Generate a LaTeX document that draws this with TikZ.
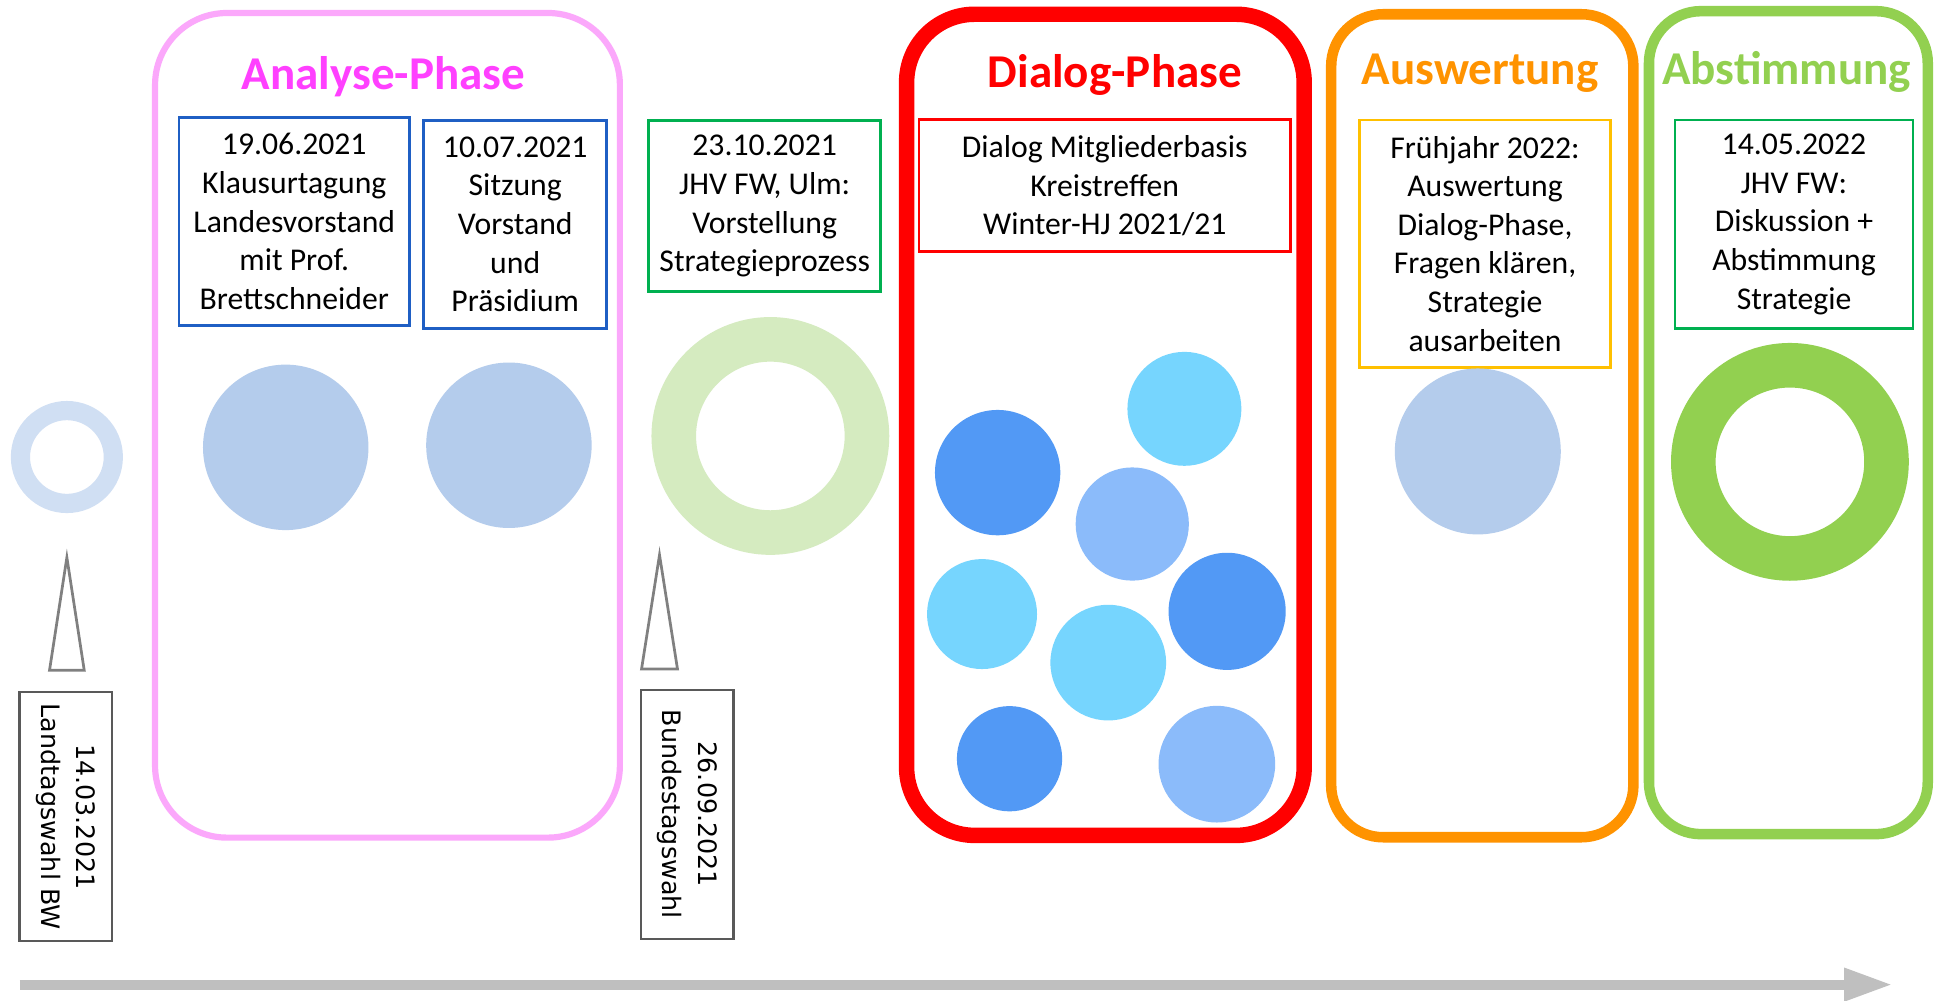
\documentclass[tikz,border=0pt]{standalone}
\usepackage{fontspec}
\setmainfont{Carlito}
\newfontfamily\electionfont{DejaVu Sans}
\usetikzlibrary{arrows.meta}
\definecolor{analysepink}{HTML}{FBA8FB}
\definecolor{analysetext}{HTML}{FF40FF}
\definecolor{dialogred}{HTML}{FF0000}
\definecolor{auswertorange}{HTML}{FF9300}
\definecolor{abstimmgreen}{HTML}{92D050}
\definecolor{eventblue}{HTML}{1F5FC4}
\definecolor{eventgreen}{HTML}{00B050}
\definecolor{eventyellow}{HTML}{FFC000}
\definecolor{ringblue}{HTML}{D0DFF3}
\definecolor{ringgreen}{HTML}{D5EBC0}
\definecolor{dotpale}{HTML}{B4CCEC}
\definecolor{dotdark}{HTML}{5299F5}
\definecolor{dotmid}{HTML}{8BBBFA}
\definecolor{dotcyan}{HTML}{76D5FE}
\definecolor{markgray}{HTML}{808080}
\definecolor{electiongray}{HTML}{595959}
\definecolor{axisgray}{HTML}{BFBFBF}

\begin{document}
\begin{tikzpicture}[x=1pt,y=-1pt,
	phase/.style={rounded corners=#1},
	phasetitle/.style={anchor=base,font=\fontsize{38}{46}\selectfont\bfseries},
	event/.style={draw,line width=2.2pt,align=center,inner sep=0pt,font=\fontsize{25.6}{31.2}\selectfont},
	election/.style={draw=electiongray,line width=1.8pt,rotate=-90,align=center,inner sep=0pt,
		minimum width=201pt,minimum height=74.5pt,font=\electionfont\fontsize{20.5}{28.6}\selectfont},
	marker/.style={draw=markgray,line width=2.2pt,line join=miter}]
	\path[fill=white,use as bounding box] (0,0) rectangle (1568,808);

	\draw[phase=58pt,analysepink,line width=5pt] (125.2,10.5) rectangle (500.5,676.3);
	\draw[phase=55pt,dialogred,line width=12.5pt] (732,11.5) rectangle (1053,674.5);
	\draw[phase=42pt,auswertorange,line width=8.5pt] (1074.8,11.5) rectangle (1318.8,676);
	\draw[phase=42pt,abstimmgreen,line width=8.5pt] (1331.4,9) rectangle (1556.5,673.5);

	\node[phasetitle,text=analysetext] (analyse) at (309.6,72.1) {Analyse-Phase};
	\node[phasetitle,text=dialogred] (dialog) at (900.2,70.6) {Dialog-Phase};
	\node[phasetitle,text=auswertorange] (auswertung) at (1195,68.6) {Auswertung};
	\node[phasetitle,text=abstimmgreen] (abstimmung) at (1442.6,68.6) {Abstimmung};

	\node[event,draw=eventblue,minimum width=186pt,minimum height=168.4pt] (klausur) at (237.6,178.8)
		{19.06.2021\\Klausurtagung\\Landesvorstand\\mit Prof.\\Brettschneider};
	\node[event,draw=eventblue,minimum width=147.7pt,minimum height=168.1pt] (sitzung) at (416,181.2)
		{10.07.2021\\Sitzung\\Vorstand\\und\\Präsidium};
	\node[event,draw=eventgreen,minimum width=187.3pt,minimum height=138.1pt] (ulm) at (617.4,166.5)
		{23.10.2021\\JHV FW, Ulm:\\Vorstellung\\Strategieprozess};
	\node[event,draw=dialogred,minimum width=300pt,minimum height=106.7pt] (basis) at (892,150)
		{Dialog Mitgliederbasis\\Kreistreffen\\Winter-HJ 2021/21};
	\node[event,draw=eventyellow,minimum width=202.7pt,minimum height=199.6pt] (fruehjahr) at (1199,196.8)
		{Frühjahr 2022:\\Auswertung\\Dialog-Phase,\\Fragen klären,\\Strategie\\ausarbeiten};
	\node[event,draw=eventgreen,minimum width=192.1pt,minimum height=168.2pt] (jhv) at (1448.5,181.1)
		{14.05.2022\\JHV FW:\\Diskussion +\\Abstimmung\\Strategie};

	\draw[ringblue,line width=15.5pt] (54,369) circle (37.5);
	\draw[ringgreen,line width=36pt] (622,352) circle (78);
	\draw[abstimmgreen,line width=36pt] (1445.2,372.9) circle (78);
	\fill[dotpale] (230.7,361.2) circle (66.8) (410.9,359.5) circle (66.8) (1193.2,364.5) circle (67);
	\fill[dotdark] (805.5,381.6) circle (50.6) (990.8,493.6) circle (47.3) (815.1,612.6) circle (42.5);
	\fill[dotcyan] (956.3,330.1) circle (46) (792.9,495.8) circle (44.4) (894.8,535) circle (46.7);
	\fill[dotmid] (914.2,423.1) circle (45.7) (982.5,617) circle (47.1);

	\node[election] (landtag) at (53,659.5) {14.03.2021\\Landtagswahl BW};
	\node[election] (bundestag) at (554.9,657.5) {26.09.2021\\Bundestagswahl};
	\draw[marker] (landtag.west) ++(-13,-17) -- ++(14,-91) -- ++(14,91) -- cycle;
	\draw[marker] (bundestag.west) ++(-36.9,-16) -- ++(14.5,-92) -- ++(14.5,92) -- cycle;

	\coordinate (axisstart) at (16,795);
	\coordinate (axisend) at (1528,795);
	\draw[axisgray,line width=8pt,-{Triangle[length=39pt,width=25pt]}] (axisstart) -- (axisend);
\end{tikzpicture}
\end{document}
